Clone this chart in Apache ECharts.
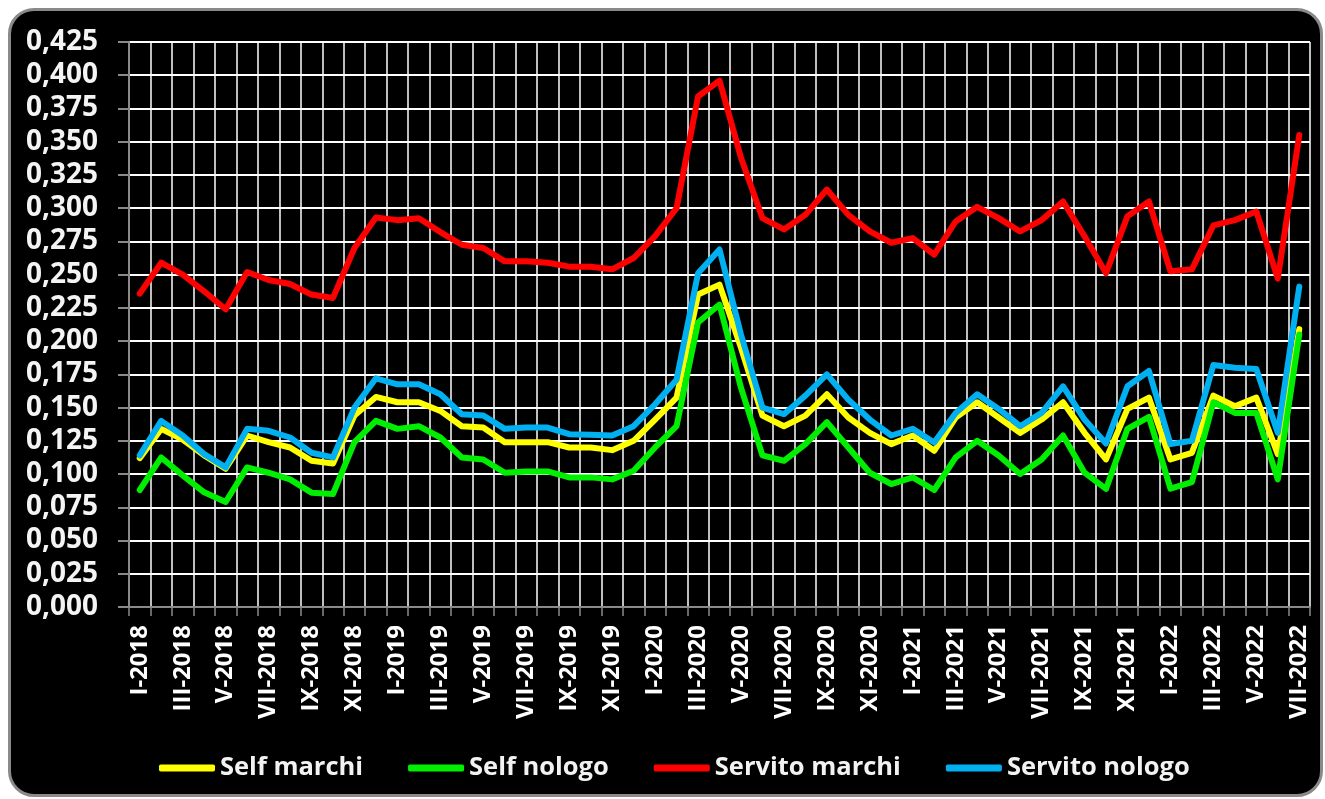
<!DOCTYPE html>
<html>
<head>
<meta charset="utf-8">
<script src="https://cdn.jsdelivr.net/npm/echarts@6/dist/echarts.min.js"></script>
<style>
html,body{margin:0;padding:0;background:#fff;width:1325px;height:799px;overflow:hidden;}
#frame{position:absolute;left:8px;top:8px;width:1309px;height:783px;background:#000;border:3px solid #8a8a8a;border-radius:26px;}
#chart{position:absolute;left:0;top:0;width:1325px;height:799px;}
</style>
</head>
<body>
<div id="frame"></div>
<div id="chart"></div>
<script>
const categories = [
 'I-2018','II-2018','III-2018','IV-2018','V-2018','VI-2018','VII-2018','VIII-2018','IX-2018','X-2018','XI-2018','XII-2018',
 'I-2019','II-2019','III-2019','IV-2019','V-2019','VI-2019','VII-2019','VIII-2019','IX-2019','X-2019','XI-2019','XII-2019',
 'I-2020','II-2020','III-2020','IV-2020','V-2020','VI-2020','VII-2020','VIII-2020','IX-2020','X-2020','XI-2020','XII-2020',
 'I-2021','II-2021','III-2021','IV-2021','V-2021','VI-2021','VII-2021','VIII-2021','IX-2021','X-2021','XI-2021','XII-2021',
 'I-2022','II-2022','III-2022','IV-2022','V-2022','VI-2022','VII-2022'
];
const seriesNames = ['Self marchi','Self nologo','Servito marchi','Servito nologo'];
const selfMarchi = [0.112,0.134,0.126,0.114,0.104,0.129,0.124,0.120,0.110,0.108,0.144,0.158,
 0.154,0.154,0.1475,0.136,0.135,0.124,0.124,0.124,0.120,0.120,0.118,0.125,
 0.141,0.1575,0.235,0.2425,0.195,0.144,0.136,0.144,0.160,0.1425,0.131,0.1225,
 0.129,0.1175,0.1425,0.154,0.1425,0.131,0.141,0.154,0.131,0.111,0.149,0.1575,
 0.111,0.116,0.159,0.151,0.1575,0.115,0.209];
const selfNologo = [0.088,0.1125,0.099,0.0863,0.079,0.105,0.101,0.096,0.086,0.085,0.124,0.140,
 0.134,0.136,0.1275,0.1125,0.111,0.101,0.102,0.102,0.0975,0.0975,0.096,0.1025,
 0.120,0.136,0.214,0.2275,0.165,0.114,0.110,0.1225,0.139,0.120,0.101,0.0925,
 0.0975,0.088,0.1125,0.125,0.114,0.100,0.111,0.129,0.101,0.0888,0.134,0.143,
 0.089,0.094,0.154,0.146,0.146,0.096,0.205];
const servitoMarchi = [0.2357,0.259,0.250,0.2375,0.224,0.252,0.246,0.243,0.235,0.2325,0.270,0.293,
 0.291,0.2925,0.282,0.2725,0.270,0.260,0.260,0.259,0.256,0.256,0.254,0.2625,
 0.279,0.300,0.384,0.396,0.338,0.2925,0.284,0.295,0.314,0.295,0.2825,0.274,
 0.2775,0.265,0.290,0.301,0.2925,0.2825,0.291,0.305,0.2788,0.251,0.294,0.305,
 0.2525,0.254,0.287,0.291,0.2975,0.247,0.355];
const servitoNologo = [0.114,0.140,0.129,0.115,0.105,0.134,0.1325,0.1275,0.116,0.1125,0.150,0.172,
 0.1675,0.1675,0.160,0.145,0.144,0.134,0.135,0.135,0.130,0.1295,0.129,0.136,
 0.1525,0.171,0.251,0.269,0.205,0.150,0.145,0.159,0.175,0.156,0.141,0.129,
 0.134,0.1237,0.146,0.160,0.149,0.136,0.146,0.166,0.141,0.123,0.166,0.1775,
 0.1225,0.125,0.182,0.180,0.179,0.131,0.241];
const colors = ['#ffff00','#00ee00','#ff0000','#00b0f0'];
const values = [selfMarchi, selfNologo, servitoMarchi, servitoNologo];

const chart = echarts.init(document.getElementById('chart'), null, {renderer:'canvas'});
chart.setOption({
  backgroundColor: 'transparent',
  animation: false,
  grid: {left:129, right:15, top:42, bottom:192, containLabel:false},
  legend: {
    left: 154, top: 748,
    itemWidth: 56, itemHeight: 7, itemGap: 45,
    icon: 'roundRect',
    textStyle: {color:'#f2f2f2', fontFamily:'Open Sans', fontWeight:'bold', fontSize:25.5, lineHeight:30},
    data: seriesNames
  },
  xAxis: {
    type:'category', data: categories, boundaryGap:true,
    axisLine:{show:true, lineStyle:{color:'#8a8a8a', width:2}},
    axisTick:{show:true, interval:0, length:9, lineStyle:{color:'#8a8a8a', width:1.5}},
    axisLabel:{interval:1, rotate:90, margin:18, color:'#ffffff', fontFamily:'Open Sans', fontWeight:'bold', fontSize:24},
    splitLine:{show:true, interval:0, lineStyle:{color:'#ffffff', width:1.5}}
  },
  yAxis: {
    type:'value', min:0, max:0.425, interval:0.025,
    axisLine:{show:true, lineStyle:{color:'#8a8a8a', width:2}},
    axisTick:{show:true, length:11, lineStyle:{color:'#8a8a8a', width:2}},
    axisLabel:{margin:31, color:'#f4f4f4', fontFamily:'Open Sans', fontWeight:'bold', fontSize:28,
      formatter: v => v.toFixed(3).replace('.', ',')},
    splitLine:{show:true, lineStyle:{color:'#ffffff', width:2}}
  },
  series: seriesNames.map((n,k) => ({
    name:n, type:'line', data: values[k], symbol:'none', showSymbol:false,
    itemStyle:{color:colors[k]},
    lineStyle:{color:colors[k], width:6, join:'round', cap:'round'},
    z: 2 + k
  }))
});
</script>
</body>
</html>
